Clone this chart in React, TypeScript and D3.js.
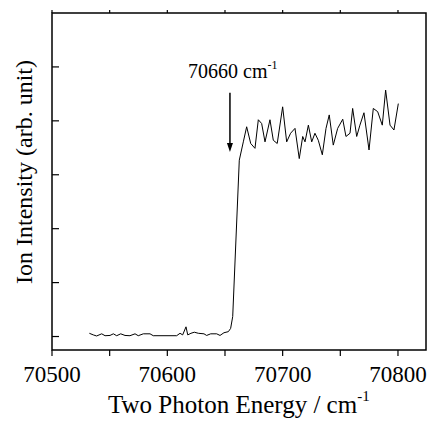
import React from "react";
import * as d3 from "d3";

const wavenumbers = [
  70532.4, 70535.8, 70538.7, 70543.1, 70546, 70550.3, 70553.2, 70556.1, 70559.6, 70563.3,
  70567.6, 70572, 70574.8, 70579.2, 70585, 70587.8, 70608.1, 70611, 70613.3, 70616.2,
  70617.7, 70620.5, 70623.4, 70626.9, 70631.8, 70634.1, 70637.6, 70642.8, 70645.7, 70649.1,
  70652.9, 70654.9, 70656.7, 70662.4, 70665.9, 70668.8, 70672.3, 70676, 70678.9, 70681.8,
  70684.7, 70689, 70691.9, 70695.3, 70700, 70703.5, 70706.9, 70710.7, 70714.4, 70717.4,
  70719.4, 70722.3, 70725.2, 70728, 70730.9, 70734.4, 70737.6, 70740.4, 70743.9, 70747.7,
  70752.1, 70754.9, 70758.4, 70760.7, 70764.2, 70767, 70770.5, 70774.9, 70778.6, 70782.4,
  70786.4, 70789.3, 70793.1, 70796.5, 70800.3,
];
const intensity = [
  0.06, 0.03, 0.01, 0.05, 0.015, 0.02, 0.05, 0.015, 0.05, 0.02,
  0.015, 0.05, 0.015, 0.05, 0.05, 0.015, 0.015, 0.06, 0.03, 0.18,
  0.03, 0.06, 0.08, 0.06, 0.05, 0.02, 0.05, 0.05, 0.02, 0.07,
  0.09, 0.15, 0.37, 3.27, 3.61, 3.89, 3.58, 3.49, 4.02, 3.95,
  3.61, 4.02, 3.64, 3.58, 4.26, 3.61, 3.77, 3.86, 3.3, 3.71,
  3.61, 3.92, 3.61, 3.77, 3.64, 3.37, 3.86, 4.11, 3.55, 3.86,
  4.03, 3.71, 3.77, 4.23, 3.71, 3.92, 4.15, 3.46, 4.23, 4.17,
  3.92, 4.57, 3.92, 3.83, 4.32,
];
const xTicks = [70500, 70600, 70700, 70800];
const xMinorTicks = [70550, 70650, 70750];
const yTicks = [0, 1, 2, 3, 4, 5];
const annotationX = 70654.3;
const annotationTop = 4.52;
const annotationBottom = 3.42;
const annotationLabel = "70660 cm";
const xTitle = "Two Photon Energy / cm";
const yTitle = "Ion Intensity (arb. unit)";

const W = 430, H = 421;
const L = 52, R = 426, T = 13, B = 350;
const font = "Liberation Serif, Times New Roman, serif";

export default function App() {
  const x = d3.scaleLinear().domain([70500, 70824.3]).range([L, R]);
  const y = d3.scaleLinear().domain([-0.25, 6]).range([B, T]);
  const data = wavenumbers.map((w, i) => [w, intensity[i]] as [number, number]);
  const line = d3.line<[number, number]>().x(d => x(d[0])).y(d => y(d[1]));
  const ax = x(annotationX);
  const ay1 = y(annotationTop), ay2 = y(annotationBottom);
  const allX = [...xTicks, ...xMinorTicks];
  return (
    <svg width={W} height={H} style={{ position: "absolute", left: 0, top: 0, background: "#fff" }}>
      <rect x={L} y={T} width={R - L} height={B - T} fill="none" stroke="#000" strokeWidth={1.5} />
      {allX.map(t => (
        <g key={t}>
          <line x1={x(t)} x2={x(t)} y1={B} y2={B + 6} stroke="#000" strokeWidth={1.2} />
          <line x1={x(t)} x2={x(t)} y1={T} y2={T - 3} stroke="#000" strokeWidth={1.2} />
        </g>
      ))}
      {yTicks.map(t => (
        <line key={t} x1={L} x2={L + 7} y1={y(t)} y2={y(t)} stroke="#000" strokeWidth={1.2} />
      ))}
      {xTicks.map(t => (
        <text key={t} x={x(t)} y={382} textAnchor="middle" fontFamily={font} fontSize={23} fill="#000">{t}</text>
      ))}
      <path d={line(data) || ""} fill="none" stroke="#000" strokeWidth={1} strokeLinejoin="miter" />
      <line x1={ax} x2={ax} y1={ay1} y2={ay2 - 6} stroke="#000" strokeWidth={1.5} />
      <path d={`M${ax - 3},${ay2 - 9} L${ax + 3},${ay2 - 9} L${ax},${ay2} Z`} fill="#000" />
      <text x={188} y={78} fontFamily={font} fontSize={20} fill="#000">
        {annotationLabel}
        <tspan dy={-9} fontSize={12}>-1</tspan>
      </text>
      <text x={108} y={413} fontFamily={font} fontSize={25} fill="#000">
        {xTitle}
        <tspan dy={-12} fontSize={15}>-1</tspan>
      </text>
      <text transform={`translate(32,172) rotate(-90)`} textAnchor="middle" fontFamily={font} fontSize={24} fill="#000">
        {yTitle}
      </text>
    </svg>
  );
}
